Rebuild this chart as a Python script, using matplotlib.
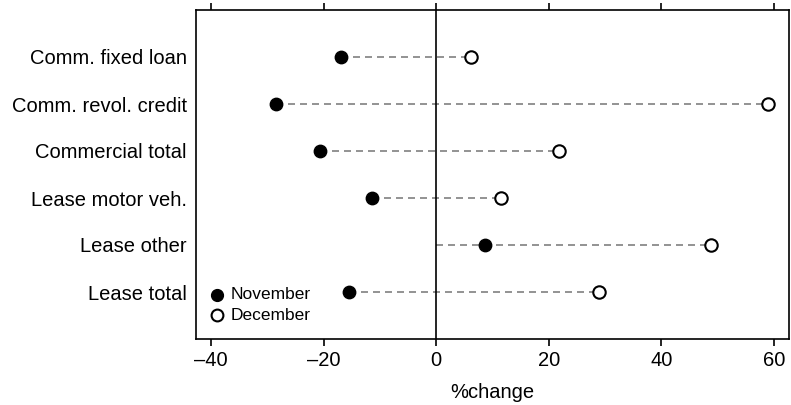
import numpy as np
import matplotlib.pyplot as plt

plt.rcParams['font.family'] = ['Liberation Sans', 'DejaVu Sans']

categories = ['Comm. fixed loan', 'Comm. revol. credit', 'Commercial total',
              'Lease motor veh.', 'Lease other', 'Lease total']
november = [-16.9, -28.4, -20.6, -11.5, 8.7, -15.5]
december = [6.2, 59.0, 21.8, 11.5, 48.8, 29.0]
xticks = [-40, -20, 0, 20, 40, 60]

fig = plt.figure(figsize=(7.91, 4.05), dpi=100)
ax = fig.add_axes([196/791, 1 - 339/405, (789-196)/791, (339-10)/405])

y = np.arange(1, len(categories) + 1)

# dashed guide from zero to the farthest point
for yi, n, d in zip(y, november, december):
    lo = min(0, n, d)
    hi = max(0, n, d)
    ax.plot([lo, hi], [yi, yi], color='#808080', lw=1.2, ls=(0, (4.2, 3)), zorder=1)

ax.axvline(0, color='black', lw=1.2, zorder=2)

ax.scatter(november, y, s=80, color='black', zorder=3, label='November')
ax.scatter(december, y, s=80, facecolor='white', edgecolor='black', lw=1.5,
           zorder=3, label='December')

ax.set_xlim(-42.7, 62.7)
ax.set_ylim(7, 0)
ax.set_yticks(y)
ax.set_yticklabels(categories, fontsize=14.5)
ax.tick_params(axis='y', length=0, pad=6.5)
ax.set_xticks(xticks)
ax.set_xticklabels([str(t).replace('-', '\u2013') for t in xticks], fontsize=14.5)
ax.tick_params(axis='x', which='both', direction='out', length=5, width=1.2,
               top=True, labeltop=False, pad=4)
for sp in ax.spines.values():
    sp.set_linewidth(1.2)
ax.set_xlabel('%change', fontsize=14.5, labelpad=9)

ax.legend(loc='lower left', frameon=False, fontsize=12.5, handlelength=1.0,
          handletextpad=0.3, borderaxespad=0.3, borderpad=0.4,
          labelspacing=0.32, markerscale=0.95, bbox_to_anchor=(0.0, 0.012))

fig.savefig('out.png', dpi=100)
